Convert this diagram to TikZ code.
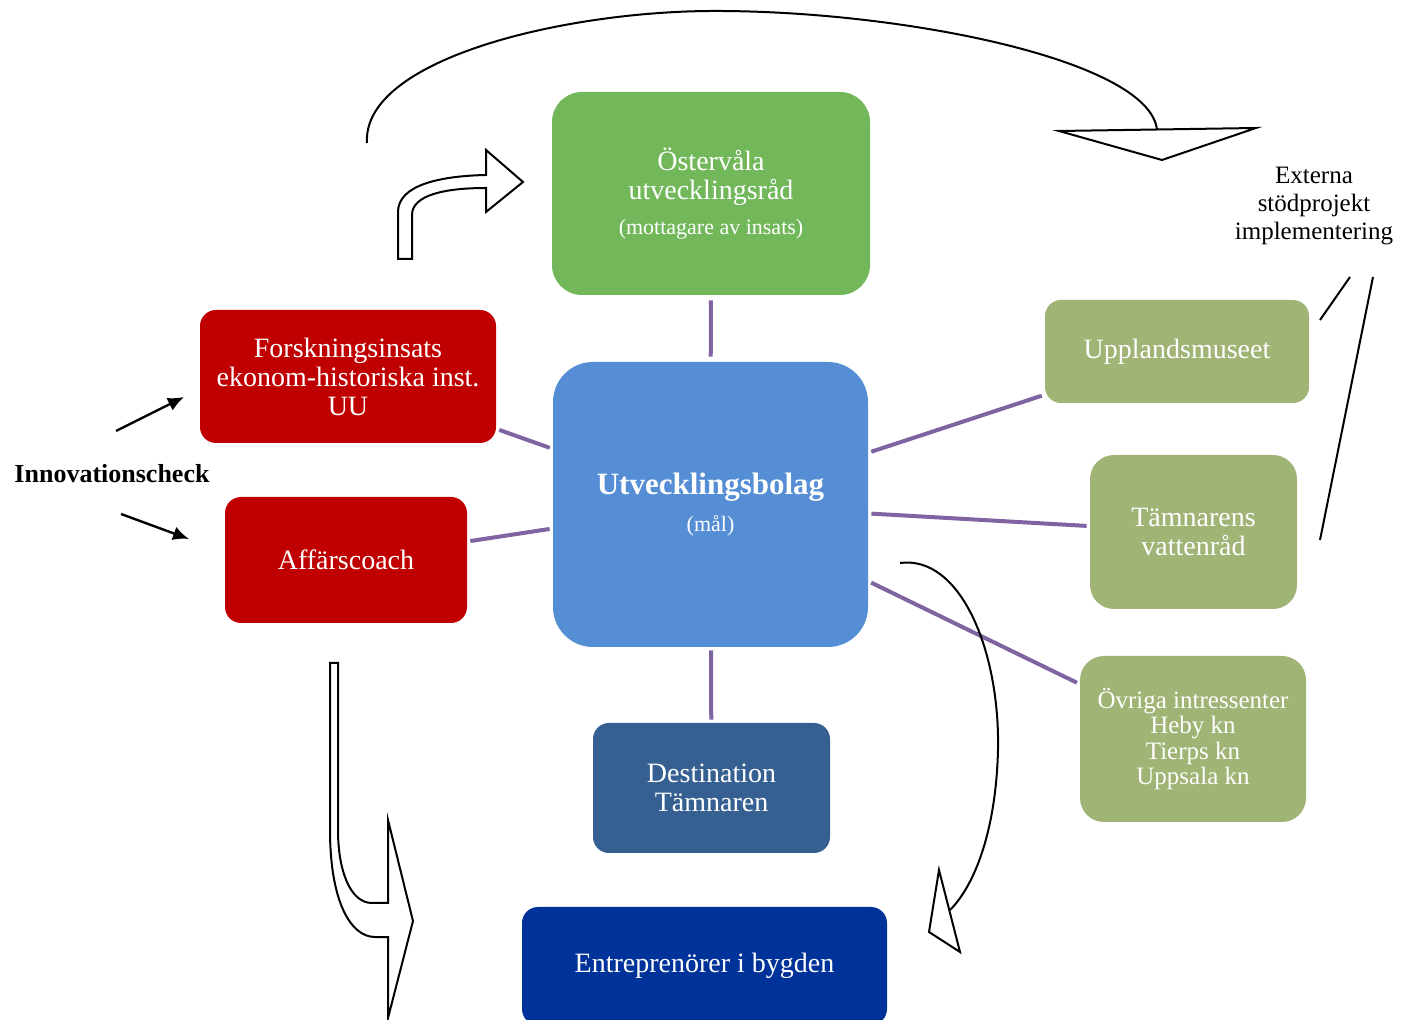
\documentclass[tikz,border=0pt]{standalone}
\usepackage{fontspec}
\setmainfont{Liberation Serif}
\usetikzlibrary{positioning,arrows.meta}

\begin{document}
\begin{tikzpicture}[x=0.5pt,y=-0.5pt]
	\definecolor{grgreen}{RGB}{114,184,91}
	\definecolor{olgreen}{RGB}{160,180,118}
	\definecolor{drred}{RGB}{192,0,0}
	\definecolor{mblue}{RGB}{85,142,213}
	\definecolor{slblue}{RGB}{55,96,146}
	\definecolor{dkblue}{RGB}{0,51,153}
	\definecolor{lpurple}{RGB}{128,100,162}
	\tikzset{
		box/.style={
			rectangle,
			text=white,
			align=center,
			inner sep=0pt,
			font=\fontsize{14}{14.5}\selectfont
		},
		link/.style={
			draw=lpurple,
			line width=2pt,
			shorten <=1.5pt,
			shorten >=1.5pt
		},
		blk/.style={
			draw=black,
			line width=1pt,
			fill=white,
			line join=miter
		},
		note/.style={
			draw=black,
			line width=1pt
		}
	}
	\useasboundingbox (0,0) rectangle (1414,1020);
	
	% ======= Centrum =======
	\node[box, fill=mblue, rounded corners=20pt, minimum width=157.5pt, minimum height=142.5pt] (utv) at (710.5,504.5)
		{{\fontsize{15.5}{18}\selectfont\bfseries Utvecklingsbolag}\\[4pt]{\fontsize{11}{13}\selectfont (mål)}};
	
	% ======= Övre / undre =======
	\node[box, fill=grgreen, rounded corners=15pt, minimum width=159pt, minimum height=101.5pt] (ost) at (711,193.5)
		{Östervåla\\utvecklingsråd\\[3pt]{\fontsize{11}{13}\selectfont (mottagare av insats)}};
	\node[box, fill=slblue, rounded corners=8pt, minimum width=118.5pt, minimum height=65pt] (dest) at (711.5,788)
		{Destination\\Tämnaren};
	\node[box, fill=dkblue, rounded corners=8pt, minimum width=182.5pt, minimum height=59pt] (entr) at (704.5,966)
		{Entreprenörer i bygden};
	
	% ======= Vänster (röda) =======
	\node[box, fill=drred, rounded corners=8pt, minimum width=148pt, minimum height=66.5pt] (forsk) at (348,376.5)
		{Forskningsinsats\\ekonom-historiska inst.\\UU};
	\node[box, fill=drred, rounded corners=8pt, minimum width=121pt, minimum height=63pt] (affar) at (346,560)
		{Affärscoach};
	
	% ======= Höger (olivgröna) =======
	\node[box, fill=olgreen, rounded corners=8pt, minimum width=132pt, minimum height=51.5pt] (upp) at (1177,351.5)
		{Upplandsmuseet};
	\node[box, fill=olgreen, rounded corners=12pt, minimum width=103.5pt, minimum height=77pt] (tam) at (1193.5,532)
		{Tämnarens\\vattenråd};
	\node[box, fill=olgreen, rounded corners=12pt, minimum width=113pt, minimum height=83pt,
		font=\fontsize{12.5}{12.6}\selectfont] (ovr) at (1193,739)
		{Övriga intressenter\\Heby kn\\Tierps kn\\Uppsala kn};
	
	% ======= Lila förbindelser =======
	\draw[link, shorten <=2.5pt, shorten >=2.5pt] (ost) -- (utv);
	\draw[link] (utv) -- (dest);
	\draw[link] (forsk) -- (utv);
	\draw[link] (affar) -- (utv);
	\draw[link] (utv) -- (upp);
	\draw[link] (utv) -- (tam);
	\draw[link] (utv) -- (ovr);
	
	% ======= Innovationscheck =======
	\node[font=\fontsize{13}{15}\selectfont\bfseries] (innov) at (112,474) {Innovationscheck};
	\coordinate (i1) at (116,431);
	\coordinate (i2) at (184,397);
	\coordinate (i3) at (121,514);
	\coordinate (i4) at (189,539);
	\draw[-{Latex[length=8pt,width=7pt]}, line width=1.2pt] (i1) -- (i2);
	\draw[-{Latex[length=8pt,width=7pt]}, line width=1.2pt] (i3) -- (i4);
	
	% ======= Externa stödprojekt =======
	\node[align=center, font=\fontsize{12.5}{14}\selectfont] (ext) at (1314,206) {Externa\\stödprojekt\\implementering};
	\coordinate (e1) at (1350,277);
	\coordinate (e2) at (1320,320);
	\coordinate (e3) at (1373,277);
	\coordinate (e4) at (1320,540);
	\draw[note] (e1) -- (e2);
	\draw[note] (e3) -- (e4);
	
	% ======= Stora bågen överst =======
	\draw[note] (367,143) .. controls (362,60) and (560,12) .. (710,11)
		.. controls (900,10) and (1150,60) .. (1157,130);
	\draw[blk] (1059,131) -- (1256,128) -- (1162,160) -- cycle;
	
	% ======= Böjd pil till Östervåla =======
	\draw[blk] (398,259) -- (398,212) .. controls (398,185) and (440,176) .. (486,175)
		-- (486,150) -- (523,182) -- (486,212) -- (486,188)
		.. controls (445,188) and (412,195) .. (412,215) -- (412,259) -- cycle;
	
	% ======= Pil nedåt vänster =======
	\draw[blk] (330,663) -- (330,830) .. controls (330,900) and (350,937) .. (375,937)
		-- (388,937) -- (388,1018) -- (413,921) -- (388,820) -- (388,903) -- (372,903)
		.. controls (350,903) and (338,870) .. (338,830) -- (338,663) -- cycle;
	
	% ======= Böjd pil höger =======
	\draw[note] (900,563) .. controls (960,555) and (1000,650) .. (998,750)
		.. controls (996,830) and (975,885) .. (950,910);
	\draw[blk] (939,870) -- (929,932) -- (960,952) -- cycle;
\end{tikzpicture}
\end{document}
